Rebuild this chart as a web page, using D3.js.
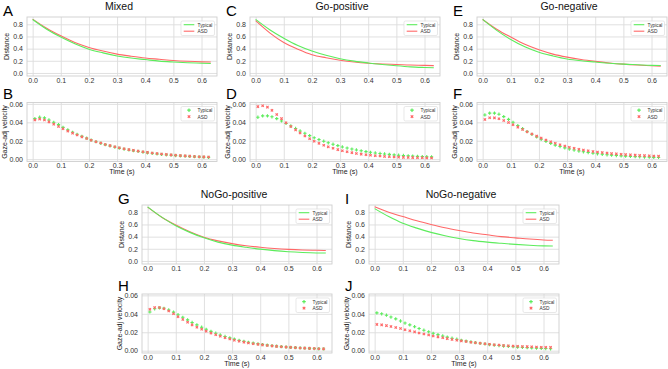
<!DOCTYPE html>
<html>
<head>
<meta charset="utf-8">
<script src="https://cdn.jsdelivr.net/npm/d3@7"></script>
<style>
  body { margin: 0; background: #fff; }
  svg { display: block; font-family: "Liberation Sans", Arial, sans-serif; }
</style>
</head>
<body>
<div id="chart"></div>
<script>
// ---- data ----
var conditions = ["Mixed", "Go-positive", "Go-negative", "NoGo-positive", "NoGo-negative"];
var groups = ["Typical", "ASD"];
var timeTicks = [0, 0.1, 0.2, 0.3, 0.4, 0.5, 0.6];
var distTicks = [0, 0.2, 0.4, 0.6, 0.8];
var velTicks = [0, 0.02, 0.04, 0.06];

var lineTime = [0, 0.05, 0.1, 0.15, 0.2, 0.25, 0.3, 0.35, 0.4, 0.45, 0.5, 0.55, 0.6, 0.633];
var dotTime = [0.008, 0.025, 0.042, 0.058, 0.075, 0.092, 0.108, 0.125, 0.142, 0.158,
               0.175, 0.192, 0.208, 0.225, 0.242, 0.258, 0.275, 0.292, 0.308, 0.325,
               0.342, 0.358, 0.375, 0.392, 0.408, 0.425, 0.442, 0.458, 0.475, 0.492,
               0.508, 0.525, 0.542, 0.558, 0.575, 0.592, 0.608, 0.625];

// distance (lines)
var mixedDistTypical = [0.88, 0.72, 0.59, 0.48, 0.39, 0.33, 0.28, 0.245, 0.22, 0.195, 0.18, 0.168, 0.16, 0.155];
var mixedDistASD     = [0.885, 0.735, 0.61, 0.50, 0.42, 0.36, 0.31, 0.275, 0.245, 0.225, 0.205, 0.192, 0.183, 0.18];
var goPosDistTypical = [0.88, 0.71, 0.57, 0.45, 0.36, 0.29, 0.235, 0.195, 0.165, 0.14, 0.118, 0.10, 0.09, 0.085];
var goPosDistASD     = [0.86, 0.66, 0.50, 0.39, 0.30, 0.25, 0.21, 0.18, 0.16, 0.148, 0.14, 0.13, 0.125, 0.12];
var goNegDistTypical = [0.88, 0.70, 0.55, 0.43, 0.34, 0.28, 0.23, 0.20, 0.18, 0.16, 0.145, 0.135, 0.125, 0.122];
var goNegDistASD     = [0.88, 0.72, 0.59, 0.47, 0.38, 0.31, 0.26, 0.22, 0.19, 0.165, 0.145, 0.13, 0.118, 0.11];
var noGoPosDistTypical = [0.89, 0.72, 0.58, 0.47, 0.38, 0.31, 0.26, 0.225, 0.195, 0.17, 0.152, 0.14, 0.132, 0.13];
var noGoPosDistASD     = [0.885, 0.72, 0.59, 0.48, 0.39, 0.33, 0.285, 0.25, 0.225, 0.205, 0.19, 0.18, 0.175, 0.172];
var noGoNegDistTypical = [0.86, 0.73, 0.62, 0.54, 0.47, 0.415, 0.37, 0.335, 0.31, 0.29, 0.272, 0.258, 0.248, 0.245];
var noGoNegDistASD     = [0.89, 0.80, 0.73, 0.66, 0.60, 0.545, 0.50, 0.46, 0.43, 0.40, 0.38, 0.36, 0.345, 0.34];

// gaze-adjusted velocity (dots)
var mixedVelTypical = [0.0440, 0.0455, 0.0448, 0.0425, 0.0400, 0.0375, 0.0345, 0.0318, 0.0292, 0.0270,
  0.0248, 0.0228, 0.0208, 0.0190, 0.0173, 0.0158, 0.0145, 0.0132, 0.0120, 0.0110,
  0.0100, 0.0092, 0.0084, 0.0077, 0.0070, 0.0064, 0.0058, 0.0053, 0.0048, 0.0044,
  0.0040, 0.0036, 0.0033, 0.0030, 0.0027, 0.0025, 0.0022, 0.0020];
var mixedVelASD = [0.0425, 0.0435, 0.0425, 0.0405, 0.0380, 0.0355, 0.0330, 0.0305, 0.0283, 0.0262,
  0.0242, 0.0224, 0.0206, 0.0190, 0.0175, 0.0160, 0.0147, 0.0135, 0.0124, 0.0114,
  0.0104, 0.0096, 0.0088, 0.0081, 0.0074, 0.0068, 0.0062, 0.0057, 0.0052, 0.0047,
  0.0043, 0.0039, 0.0036, 0.0033, 0.0030, 0.0027, 0.0025, 0.0023];
var goPosVelTypical = [0.0455, 0.0470, 0.0470, 0.0460, 0.0440, 0.0415, 0.0388, 0.0360, 0.0333, 0.0306,
  0.0281, 0.0256, 0.0232, 0.0213, 0.0195, 0.0178, 0.0162, 0.0147, 0.0133, 0.0121,
  0.0110, 0.0100, 0.0091, 0.0082, 0.0075, 0.0068, 0.0062, 0.0057, 0.0052, 0.0047,
  0.0043, 0.0040, 0.0037, 0.0034, 0.0031, 0.0029, 0.0027, 0.0025];
var goPosVelASD = [0.0570, 0.0580, 0.0565, 0.0530, 0.0485, 0.0440, 0.0395, 0.0355, 0.0318, 0.0285,
  0.0252, 0.0222, 0.0195, 0.0172, 0.0152, 0.0134, 0.0118, 0.0104, 0.0092, 0.0081,
  0.0071, 0.0062, 0.0055, 0.0048, 0.0043, 0.0038, 0.0034, 0.0030, 0.0027, 0.0024,
  0.0022, 0.0020, 0.0018, 0.0017, 0.0016, 0.0015, 0.0014, 0.0013];
var goNegVelTypical = [0.0480, 0.0500, 0.0500, 0.0488, 0.0462, 0.0432, 0.0400, 0.0365, 0.0332, 0.0300,
  0.0270, 0.0242, 0.0216, 0.0193, 0.0172, 0.0153, 0.0137, 0.0123, 0.0110, 0.0099,
  0.0089, 0.0080, 0.0072, 0.0065, 0.0059, 0.0053, 0.0048, 0.0044, 0.0040, 0.0036,
  0.0033, 0.0030, 0.0028, 0.0026, 0.0024, 0.0022, 0.0020, 0.0019];
var goNegVelASD = [0.0430, 0.0450, 0.0448, 0.0438, 0.0420, 0.0398, 0.0374, 0.0348, 0.0322, 0.0297,
  0.0273, 0.0250, 0.0229, 0.0209, 0.0190, 0.0173, 0.0157, 0.0143, 0.0130, 0.0118,
  0.0108, 0.0099, 0.0091, 0.0084, 0.0078, 0.0072, 0.0067, 0.0062, 0.0058, 0.0054,
  0.0050, 0.0047, 0.0044, 0.0041, 0.0039, 0.0037, 0.0035, 0.0033];
var noGoPosVelTypical = [0.0420, 0.0455, 0.0465, 0.0460, 0.0442, 0.0418, 0.0390, 0.0362, 0.0334, 0.0306,
  0.0280, 0.0255, 0.0232, 0.0210, 0.0190, 0.0171, 0.0154, 0.0139, 0.0125, 0.0112,
  0.0101, 0.0091, 0.0082, 0.0074, 0.0067, 0.0060, 0.0054, 0.0049, 0.0044, 0.0040,
  0.0036, 0.0033, 0.0030, 0.0027, 0.0025, 0.0023, 0.0021, 0.0019];
var noGoPosVelASD = [0.0450, 0.0468, 0.0468, 0.0455, 0.0430, 0.0400, 0.0368, 0.0338, 0.0308, 0.0280,
  0.0255, 0.0232, 0.0211, 0.0191, 0.0173, 0.0156, 0.0141, 0.0127, 0.0114, 0.0103,
  0.0093, 0.0084, 0.0076, 0.0069, 0.0063, 0.0057, 0.0052, 0.0047, 0.0043, 0.0039,
  0.0036, 0.0033, 0.0030, 0.0028, 0.0025, 0.0023, 0.0021, 0.0020];
var noGoNegVelTypical = [0.0410, 0.0400, 0.0385, 0.0365, 0.0345, 0.0322, 0.0300, 0.0280, 0.0260, 0.0240,
  0.0222, 0.0205, 0.0189, 0.0174, 0.0160, 0.0147, 0.0135, 0.0124, 0.0113, 0.0104,
  0.0095, 0.0087, 0.0080, 0.0073, 0.0067, 0.0061, 0.0056, 0.0051, 0.0047, 0.0043,
  0.0039, 0.0036, 0.0033, 0.0030, 0.0028, 0.0025, 0.0023, 0.0021];
var noGoNegVelASD = [0.0285, 0.0280, 0.0272, 0.0262, 0.0252, 0.0240, 0.0228, 0.0216, 0.0204, 0.0192,
  0.0181, 0.0170, 0.0160, 0.0150, 0.0140, 0.0131, 0.0122, 0.0114, 0.0106, 0.0099,
  0.0092, 0.0086, 0.0080, 0.0075, 0.0070, 0.0065, 0.0061, 0.0057, 0.0054, 0.0051,
  0.0048, 0.0046, 0.0044, 0.0042, 0.0040, 0.0038, 0.0037, 0.0036];

var distSeries = [[mixedDistTypical, mixedDistASD], [goPosDistTypical, goPosDistASD],
  [goNegDistTypical, goNegDistASD], [noGoPosDistTypical, noGoPosDistASD], [noGoNegDistTypical, noGoNegDistASD]];
var velSeries = [[mixedVelTypical, mixedVelASD], [goPosVelTypical, goPosVelASD],
  [goNegVelTypical, goNegVelASD], [noGoPosVelTypical, noGoPosVelASD], [noGoNegVelTypical, noGoNegVelASD]];

// ---- layout ----
var width = 668, height = 369,
    pw = 190, ph = 59;
var colLeft = [27, 250, 477, 142, 369],
    distTop = [17, 17, 17, 205, 205],
    velTop = [102.5, 102.5, 102.5, 294, 294],
    distLetter = ["A", "C", "E", "G", "I"],
    velLetter = ["B", "D", "F", "H", "J"];
var colors = ["#5cec5c", "#ff6868"];

var svg = d3.select("#chart").append("svg")
    .attr("width", width)
    .attr("height", height);

var x = d3.scaleLinear().domain([-0.02, 0.655]).range([0, pw]);
var yDist = d3.scaleLinear().domain([-0.05, 0.92]).range([ph, 0]);
var yVel = d3.scaleLinear().domain([-0.0025, 0.0615]).range([ph, 0]);

function frame(left, top, y, yticks, yfmt, ylabel, labelX, showTime) {
  var g = svg.append("g").attr("transform", "translate(" + left + "," + top + ")");

  var xa = g.append("g")
      .attr("transform", "translate(0," + ph + ")")
      .call(d3.axisBottom(x).tickValues(timeTicks).tickSize(-ph).tickPadding(2).tickFormat(d3.format(".1f")));
  var ya = g.append("g")
      .call(d3.axisLeft(y).tickValues(yticks).tickSize(-pw).tickPadding(4).tickFormat(d3.format(yfmt)));

  [xa, ya].forEach(function(a) {
    a.select(".domain").remove();
    a.selectAll("line").attr("stroke", "#dddddd").attr("stroke-width", 0.9);
    a.selectAll("text").attr("fill", "#333").style("font-size", "7px");
  });

  g.append("rect")
      .attr("width", pw).attr("height", ph)
      .attr("fill", "none").attr("stroke", "#cfcfcf").attr("stroke-width", 0.9);

  g.append("text")
      .attr("transform", "translate(" + labelX + "," + (ph / 2) + ") rotate(-90)")
      .attr("text-anchor", "middle")
      .style("font-size", "7px")
      .attr("fill", "#222")
      .text(ylabel);

  if (showTime) {
    g.append("text")
      .attr("x", pw / 2).attr("y", ph + 12.5)
      .attr("text-anchor", "middle")
      .style("font-size", "7px")
      .attr("fill", "#222")
      .text("Time (s)");
  }
  return g;
}

function legend(g, kind) {
  var lg = g.append("g").attr("transform", "translate(" + (pw - 36) + ",4)");
  lg.append("rect")
      .attr("width", 33.5).attr("height", 14.5).attr("rx", 1.5)
      .attr("fill", "#fff").attr("fill-opacity", 0.85)
      .attr("stroke", "#d8d8d8").attr("stroke-width", 0.6);
  groups.forEach(function(name, i) {
    var yy = 3.7 + i * 6.5;
    if (kind == "line") {
      lg.append("line")
        .attr("x1", 2.7).attr("x2", 13.3).attr("y1", yy).attr("y2", yy)
        .attr("stroke", colors[i]).attr("stroke-width", 1.1);
    } else {
      lg.append("path")
        .attr("transform", "translate(8," + yy + ")" + (i == 1 ? " rotate(45)" : ""))
        .attr("d", d3.symbol().type(d3.symbolCross).size(7)())
        .attr("fill", colors[i]);
    }
    lg.append("text")
      .attr("x", 16.5).attr("y", yy + 1.8)
      .style("font-size", "4.8px")
      .attr("fill", "#333")
      .text(name);
  });
}

var line = d3.line()
    .x(function(d, i) { return x(lineTime[i]); })
    .y(function(d) { return yDist(d); })
    .curve(d3.curveMonotoneX);

conditions.forEach(function(cond, c) {
  // distance panel
  var g = frame(colLeft[c], distTop[c], yDist, distTicks, ".1f", "Distance", -18, false);
  g.append("text")
      .attr("x", pw / 2 - 3).attr("y", -7)
      .attr("text-anchor", "middle")
      .style("font-size", "10.5px")
      .attr("fill", "#111")
      .text(cond);
  g.append("text")
      .attr("x", -24).attr("y", -1.5)
      .style("font-size", "15px")
      .attr("fill", "#000")
      .text(distLetter[c]);
  [1, 0].forEach(function(s) {
    g.append("path")
      .datum(distSeries[c][s])
      .attr("d", line)
      .attr("fill", "none")
      .attr("stroke", colors[s])
      .attr("stroke-width", 1.1);
  });
  legend(g, "line");

  // velocity panel
  var v = frame(colLeft[c], velTop[c], yVel, velTicks, ".2f", "Gaze-adj velocity", -20.5, true);
  v.append("text")
      .attr("x", -24).attr("y", -3.5)
      .style("font-size", "15px")
      .attr("fill", "#000")
      .text(velLetter[c]);
  [0, 1].forEach(function(s) {
    v.append("g").selectAll("path")
      .data(velSeries[c][s])
      .enter()
      .append("path")
      .attr("transform", function(d, i) {
        return "translate(" + x(dotTime[i]) + "," + yVel(d) + ")" + (s == 1 ? " rotate(45)" : "");
      })
      .attr("d", d3.symbol().type(d3.symbolCross).size(6)())
      .attr("fill", colors[s]);
  });
  legend(v, "dot");
});
</script>
</body>
</html>
